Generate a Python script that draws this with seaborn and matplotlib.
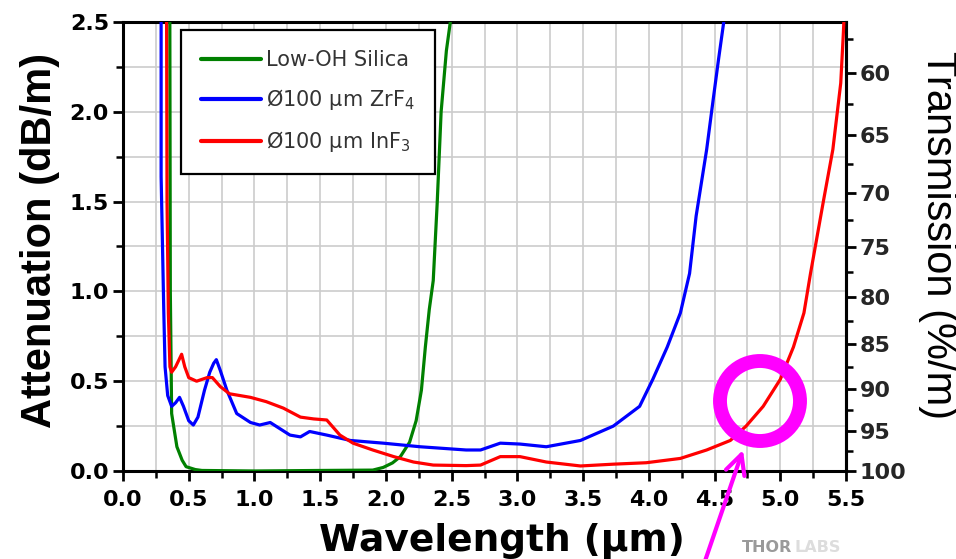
import numpy as np
import pandas as pd
import matplotlib
matplotlib.use("Agg")
import matplotlib.pyplot as plt
import seaborn as sns
from matplotlib.patches import Ellipse

# ---------------- data ----------------
silica_wl = [0.355, 0.36, 0.37, 0.41, 0.45, 0.48, 0.55, 0.60, 1.0, 1.5, 1.9, 1.98, 2.05,
             2.11, 2.18, 2.23, 2.27, 2.30, 2.33, 2.36, 2.39, 2.42, 2.46, 2.49, 2.50]
silica_att = [3.0, 1.0, 0.32, 0.135, 0.06, 0.024, 0.008, 0.003, 0.0, 0.003, 0.005, 0.02, 0.045,
              0.08, 0.16, 0.28, 0.45, 0.69, 0.90, 1.06, 1.49, 2.0, 2.34, 2.5, 2.6]

zrf4_wl = [0.29, 0.29, 0.31, 0.32, 0.34, 0.37, 0.40, 0.43, 0.46, 0.50, 0.535, 0.57, 0.62, 0.66,
           0.69, 0.71, 0.74, 0.79, 0.865, 0.97, 1.04, 1.12, 1.27, 1.35, 1.42, 1.55, 1.73, 1.98,
           2.26, 2.61, 2.72, 2.87, 3.02, 3.22, 3.48, 3.73, 3.93, 4.03, 4.14, 4.24, 4.31, 4.36,
           4.44, 4.49, 4.53, 4.57, 4.58]
zrf4_att = [3.0, 1.64, 0.90, 0.58, 0.42, 0.36, 0.38, 0.41, 0.36, 0.28, 0.256, 0.30, 0.45, 0.55,
            0.60, 0.62, 0.56, 0.45, 0.32, 0.27, 0.256, 0.27, 0.20, 0.19, 0.22, 0.20, 0.17, 0.155,
            0.135, 0.117, 0.117, 0.155, 0.15, 0.135, 0.17, 0.25, 0.36, 0.51, 0.69, 0.88, 1.10, 1.42,
            1.79, 2.07, 2.29, 2.5, 2.6]

inf3_wl = [0.33, 0.335, 0.345, 0.357, 0.37, 0.40, 0.446, 0.47, 0.50, 0.56, 0.64, 0.68, 0.74,
           0.81, 0.97, 1.09, 1.22, 1.35, 1.45, 1.55, 1.65, 1.75, 1.90, 2.06, 2.21, 2.36, 2.61,
           2.72, 2.87, 3.02, 3.22, 3.48, 3.73, 3.98, 4.24, 4.44, 4.62, 4.74, 4.87, 5.00, 5.10,
           5.18, 5.23, 5.33, 5.40, 5.46, 5.48, 5.49]
inf3_att = [3.0, 1.5, 0.88, 0.58, 0.55, 0.58, 0.65, 0.58, 0.52, 0.50, 0.52, 0.52, 0.47,
            0.43, 0.41, 0.386, 0.35, 0.30, 0.29, 0.284, 0.20, 0.155, 0.117, 0.08, 0.05, 0.033, 0.03,
            0.033, 0.08, 0.08, 0.05, 0.028, 0.038, 0.046, 0.07, 0.117, 0.17, 0.25, 0.36, 0.51, 0.69,
            0.88, 1.10, 1.51, 1.79, 2.16, 2.44, 2.6]

labels = ["Low-OH Silica", "Ø100 µm ZrF$_4$", "Ø100 µm InF$_3$"]
colors = ["#008000", "#0000ff", "#ff0000"]

x_ticks = [0.0, 0.5, 1.0, 1.5, 2.0, 2.5, 3.0, 3.5, 4.0, 4.5, 5.0, 5.5]
y_ticks = [0.0, 0.5, 1.0, 1.5, 2.0, 2.5]
trans_ticks = [60, 65, 70, 75, 80, 85, 90, 95, 100]

df = pd.concat([
    pd.DataFrame({"wl": silica_wl, "att": silica_att, "fiber": labels[0]}),
    pd.DataFrame({"wl": zrf4_wl, "att": zrf4_att, "fiber": labels[1]}),
    pd.DataFrame({"wl": inf3_wl, "att": inf3_att, "fiber": labels[2]}),
], ignore_index=True)

# ---------------- figure ----------------
sns.set_theme(style="white")
plt.rcParams["font.family"] = ["DejaVu Sans"]

W, H = 956, 559
fig = plt.figure(figsize=(W / 100, H / 100), dpi=100)
ax = fig.add_axes([123 / W, 1 - 471 / H, (846 - 123) / W, (471 - 22) / H])

sns.lineplot(data=df, x="wl", y="att", hue="fiber", palette=dict(zip(labels, colors)),
             sort=False, estimator=None, lw=2.3, ax=ax, zorder=3)

ax.set_xlim(0, 5.5)
ax.set_ylim(0, 2.5)
ax.set_xticks(x_ticks)
ax.set_xticklabels([f"{v:.1f}" for v in x_ticks])
ax.set_xticks(np.arange(0.25, 5.5, 0.5), minor=True)
ax.set_yticks(y_ticks)
ax.set_yticklabels([f"{v:.1f}" for v in y_ticks])
ax.set_yticks(np.arange(0.25, 2.5, 0.5), minor=True)

ax.grid(which="both", color="#cccccc", lw=1.2, zorder=0)
ax.set_axisbelow(True)
for sp in ax.spines.values():
    sp.set_visible(True)
    sp.set_color("black")
    sp.set_linewidth(2.2)

ax.tick_params(axis="both", which="major", direction="out", length=7, width=2,
               color="black", labelsize=16, pad=3, labelcolor="black")
ax.tick_params(axis="x", which="major", pad=7)
ax.tick_params(axis="both", which="minor", direction="out", length=5, width=1.8, color="black")
ax.tick_params(axis="x", which="both", bottom=True)
ax.tick_params(axis="y", which="both", left=True)
for lab in ax.get_xticklabels() + ax.get_yticklabels():
    lab.set_fontweight("bold")

ax.set_xlabel("Wavelength (µm)", fontsize=27, fontweight="bold", color="black")
ax.xaxis.set_label_coords(0.524, -0.115)
ax.set_ylabel("Attenuation (dB/m)", fontsize=30, fontweight="bold", color="black",
              family="Liberation Sans")
ax.yaxis.set_label_coords(-0.087, 0.514)


def att_to_trans(a):
    return 100 * 10 ** (-np.asarray(a, dtype=float) / 10)


def trans_to_att(t):
    t = np.clip(np.asarray(t, dtype=float), 1e-6, None)
    return -10 * np.log10(t / 100)


sec = ax.secondary_yaxis("right", functions=(att_to_trans, trans_to_att))
sec.set_yticks(trans_ticks)
sec.set_yticklabels([str(v) for v in trans_ticks])
sec.set_yticks(np.arange(57.5, 100, 5), minor=True)
sec.tick_params(axis="y", which="major", direction="out", length=7, width=2, color="black",
                labelsize=16, pad=3)
sec.tick_params(axis="y", which="minor", direction="out", length=5, width=1.8, color="black")
for lab in sec.get_yticklabels():
    lab.set_fontweight("bold")
sec.spines["right"].set_linewidth(2.2)
sec.spines["right"].set_color("black")

ax.text(1.127, 0.525, "Transmission (%/m)", transform=ax.transAxes, rotation=270,
        ha="center", va="center", fontsize=30, family="Liberation Sans", color="black")

# legend
leg = ax.legend(loc="upper left", bbox_to_anchor=(0.080, 0.982), borderaxespad=0,
                fontsize=15, frameon=True, fancybox=False, handlelength=2.9,
                handletextpad=0.25, labelspacing=0.82, borderpad=0.95, framealpha=1)
leg.get_frame().set_edgecolor("black")
leg.get_frame().set_linewidth(1.6)
for t in leg.get_texts():
    t.set_color("#333333")
for ln in leg.get_lines():
    ln.set_linewidth(3)

# magenta annotation ring and arrow
cx, cy, r = 760, H - 401, 40
ring = Ellipse((cx / W, cy / H), 2 * r / W, 2 * r / H, transform=fig.transFigure,
               fill=False, edgecolor="#ff00ff", lw=10, zorder=10)
fig.add_artist(ring)
ax.annotate("", xy=(743, H - 450), xytext=(705, -2), xycoords="figure pixels",
            textcoords="figure pixels",
            arrowprops=dict(arrowstyle="->", color="#ff00ff", lw=3, mutation_scale=35,
                            shrinkA=0, shrinkB=0), annotation_clip=False)

# watermark
fig.text(742 / W, (H - 552) / H, "THOR", fontsize=11.5, fontweight="bold", color="#9a9a9a",
         ha="left", va="baseline")
fig.text(795 / W, (H - 552) / H, "LABS", fontsize=11.5, fontweight="bold", color="#dddddd",
         ha="left", va="baseline")

fig.savefig("out.png", dpi=100)
